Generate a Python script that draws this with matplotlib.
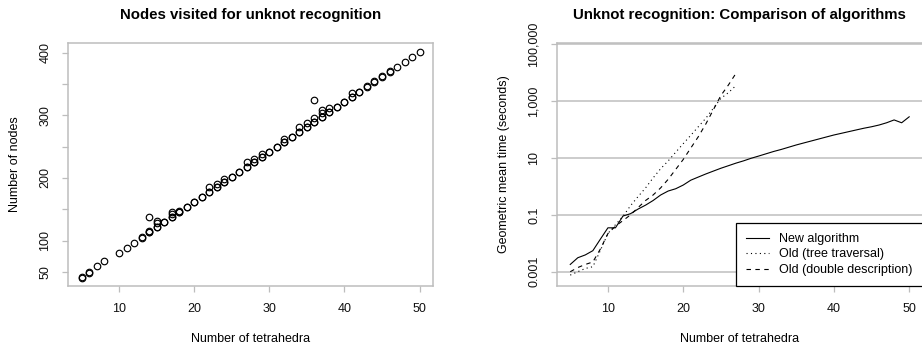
import numpy as np
import matplotlib
matplotlib.use("Agg")
import matplotlib.pyplot as plt
from matplotlib.ticker import FixedLocator, FixedFormatter, NullLocator

plt.rcParams['font.family'] = ['Liberation Sans', 'DejaVu Sans']

# left panel: nodes visited per knot (tetrahedra, nodes)
tet_main = [5, 5, 6, 6, 7, 8, 10, 11, 12, 13, 13, 14, 14, 15, 15, 16, 16, 17, 17,
            18, 18, 19, 19, 20, 20, 21, 21, 22, 22, 23, 23, 24, 24, 25, 25, 26, 26,
            27, 27, 28, 28, 29, 29, 30, 30, 31, 31, 32, 32, 33, 33, 34, 34, 35, 35,
            36, 36, 37, 37, 38, 38, 39, 39, 40, 40, 41, 41, 42, 42, 43, 43, 44, 44,
            45, 45, 46, 46, 47, 48, 49, 50]
nodes_main = [41, 42, 49, 50, 60, 68, 81, 89, 97, 105, 106, 113, 114, 121, 122, 129, 130,
              137, 138, 145, 146, 153, 154, 161, 162, 169, 170, 177, 178, 185, 186,
              193, 194, 201, 202, 209, 210, 217, 218, 225, 226, 233, 234, 241, 242,
              249, 250, 257, 258, 265, 266, 273, 274, 281, 282, 289, 290, 297, 298,
              305, 306, 313, 314, 321, 322, 329, 330, 337, 338, 345, 346, 353, 354,
              361, 362, 369, 370, 377, 385, 393, 401]
tet_extra = [14, 14, 15, 15, 17, 17, 18, 22, 23, 24, 27, 28, 29, 32, 34, 35,
             36, 36, 37, 37, 38, 41]
nodes_extra = [116, 137, 128, 132, 142, 145, 148, 186, 191, 199, 226, 231, 239,
               263, 282, 287, 295, 324, 303, 309, 311, 335]

# right panel: geometric mean running time (seconds)
n_tet = list(range(5, 51))
t_new = [0.0018, 0.0031, 0.0039, 0.0055, 0.014, 0.035, 0.035, 0.091, 0.11, 0.16,
         0.22, 0.32, 0.50, 0.69, 0.83, 1.12, 1.66, 2.14, 2.75, 3.47, 4.37, 5.37,
         6.61, 7.94, 9.77, 11.7, 14.1, 17.0, 20.0, 24.0, 28.8, 33.9, 39.8, 46.8,
         55.0, 64.6, 74.1, 85.1, 97.7, 112, 126, 145, 174, 219, 174, 282]
n_old = list(range(5, 28))
t_tree = [0.00076, 0.0010, 0.0013, 0.0015, 0.0056, 0.022, 0.045, 0.089, 0.21,
          0.44, 0.89, 2.0, 4.2, 7.9, 16, 32, 63, 126, 251, 562, 1259, 1995, 3548]
t_dd = [0.0010, 0.0014, 0.0018, 0.0022, 0.0063, 0.022, 0.040, 0.063, 0.10, 0.18,
        0.32, 0.50, 0.89, 1.78, 3.98, 8.9, 22.4, 56.2, 158, 501, 1585, 3715, 9550]

ytick_vals = [0.001, 0.1, 10, 1000, 100000]
ytick_labels = ["0.001", "0.1", "10", "1,000", "100,000"]

frame_col = "#bdbdbd"


def style_axes(ax):
    for sp in ax.spines.values():
        sp.set_color(frame_col)
        sp.set_linewidth(1.1)
    ax.tick_params(axis="both", color=frame_col, length=4, width=0.9,
                   labelsize=9, pad=8, labelcolor="#111111")
    ax.tick_params(axis="y", labelrotation=90)
    for lab in ax.get_yticklabels():
        lab.set_va("center")
    ax.set_xticks([10, 20, 30, 40, 50])
    ax.set_xlim(3.2, 51.8)


fig = plt.figure(figsize=(9.22, 3.52), dpi=100)

# ---- left: nodes visited
ax1 = fig.add_axes([0.0738, 0.1875, 0.3959, 0.6903])
ax1.plot(tet_main, nodes_main, "o", ms=4.7, mfc="none", mec="black", mew=0.85)
ax1.plot(tet_extra, nodes_extra, "o", ms=4.7, mfc="none", mec="black", mew=0.85)
ax1.set_ylim(27.6, 415.4)
ax1.set_yticks([50, 100, 150, 200, 250, 300, 350, 400])
ax1.set_yticklabels(["50", "100", "", "200", "", "300", "", "400"])
style_axes(ax1)
ax1.set_title("Nodes visited for unknot recognition", fontsize=10.8,
              fontweight="bold", pad=17)
ax1.set_xlabel("Number of tetrahedra", fontsize=9)
ax1.set_ylabel("Number of nodes", fontsize=9)
ax1.xaxis.set_label_coords(0.5, -0.195)
ax1.yaxis.set_label_coords(-0.128, 0.5)

# ---- right: timing comparison
ax2 = fig.add_axes([0.6038, 0.1875, 0.3970, 0.6903])
ax2.set_yscale("log")
for v in ytick_vals:
    ax2.axhline(v, color="#c8c8c8", lw=1.3, zorder=0)
ax2.plot(n_tet, t_new, color="black", lw=0.8, label="New algorithm")
ax2.plot(n_old, t_tree, color="black", lw=0.8, linestyle=(0, (1, 3)),
         label="Old (tree traversal)")
ax2.plot(n_old, t_dd, color="black", lw=0.8, linestyle=(0, (4, 4)),
         label="Old (double description)")
ax2.set_ylim(10 ** -3.503, 10 ** 5.047)
ax2.yaxis.set_major_locator(FixedLocator(ytick_vals))
ax2.yaxis.set_major_formatter(FixedFormatter(ytick_labels))
ax2.yaxis.set_minor_locator(NullLocator())
style_axes(ax2)
ax2.set_title("Unknot recognition: Comparison of algorithms", fontsize=10.8,
              fontweight="bold", pad=17)
ax2.set_xlabel("Number of tetrahedra", fontsize=9)
ax2.set_ylabel("Geometric mean time (seconds)", fontsize=9)
ax2.xaxis.set_label_coords(0.5, -0.195)
ax2.yaxis.set_label_coords(-0.128, 0.5)

leg = ax2.legend(loc="lower right", bbox_to_anchor=(1.0, 0.0), borderaxespad=0,
                 fancybox=False, edgecolor="black", framealpha=1, fontsize=9,
                 handlelength=1.9, handletextpad=0.8, labelspacing=0.28,
                 borderpad=0.8)
leg.get_frame().set_linewidth(0.9)

fig.savefig("out.png", dpi=100)
